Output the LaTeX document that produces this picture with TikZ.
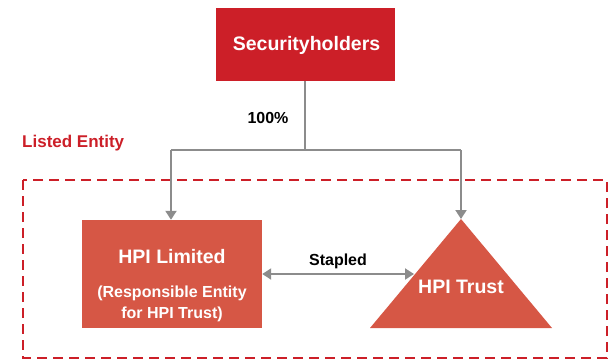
\documentclass[tikz,border=0pt]{standalone}
\usepackage{fontspec}
\setmainfont{Liberation Sans}
\usetikzlibrary{arrows.meta}
\definecolor{darkred}{HTML}{CC1F28}
\definecolor{boxred}{HTML}{D65745}
\definecolor{linegray}{HTML}{8C8C8C}
\tikzset{
  conn/.style={draw=linegray, line width=2pt},
  arr/.style={conn, -{Triangle[width=11pt,length=9pt]}},
  darr/.style={conn, {Triangle[width=11pt,length=9pt]}-{Triangle[width=11pt,length=9pt]}},
  wtext/.style={text=white, font=\bfseries, inner sep=0pt},
  btext/.style={text=black, font=\bfseries, inner sep=0pt},
}
\begin{document}
\begin{tikzpicture}[x=1pt,y=-1pt]
\useasboundingbox (0,0) rectangle (609,360);
% dashed listed entity box
\draw[darkred, line width=2pt, dash pattern=on 10pt off 6pt] (23,180) rectangle (607,358);
\node[text=darkred, font=\bfseries\fontsize{17}{20}\selectfont, anchor=west, inner sep=0pt] (listed) at (22,143) {Listed Entity};
% securityholders
\node[fill=darkred, minimum width=179pt, minimum height=73pt, inner sep=0pt] (sec) at (305,44.5) {};
\node[wtext, font=\bfseries\fontsize{19.5}{22}\selectfont] (sectext) at (306.5,45) {Securityholders};
% HPI Limited box
\node[fill=boxred, minimum width=180pt, minimum height=108pt, inner sep=0pt] (lim) at (172,274) {};
\node[wtext, font=\bfseries\fontsize{19.5}{22}\selectfont] (limtext) at (172,257) {HPI Limited};
\node[wtext, font=\bfseries\fontsize{16}{19}\selectfont] (limsub1) at (172,293) {(Responsible Entity};
\node[wtext, font=\bfseries\fontsize{16}{19}\selectfont] (limsub2) at (172,314) {for HPI Trust)};
% triangle
\coordinate (apex) at (461,219);
\coordinate (bl) at (370,328);
\coordinate (br) at (552,328);
\fill[boxred] (apex) -- (br) -- (bl) -- cycle;
\node[wtext, font=\bfseries\fontsize{19.5}{22}\selectfont] (trust) at (461,287) {HPI Trust};
% connectors
\coordinate (junc) at (305,150);
\coordinate (jl) at (171,150);
\coordinate (jr) at (461,150);
\coordinate (edge) at (414,274);
\draw[conn] (sec.south) -- (junc);
\draw[conn] (jl) -- (jr);
\draw[arr] (jl) -- (jl |- lim.north);
\draw[arr] (jr) -- (apex);
\draw[darr] (lim.east) -- (edge);
\node[btext, font=\bfseries\fontsize{16}{19}\selectfont] (pct) at (268,118) {100\%};
\node[btext, font=\bfseries\fontsize{16}{19}\selectfont] (stapled) at (338,261) {Stapled};
\end{tikzpicture}
\end{document}
